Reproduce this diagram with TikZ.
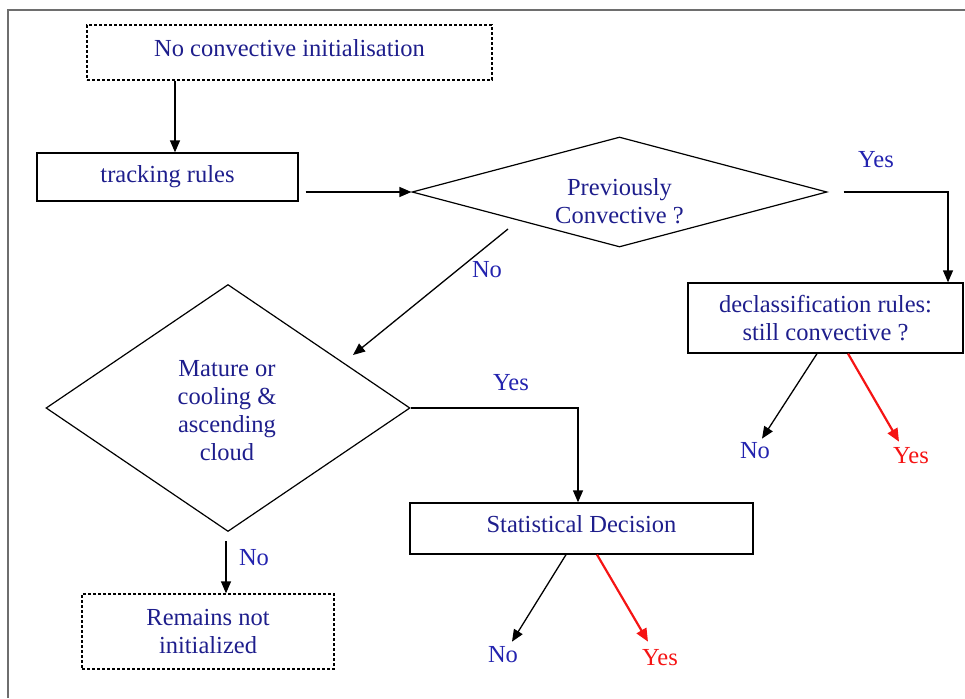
\documentclass[tikz,border=0pt]{standalone}
\usepackage{fontspec}
\setmainfont{Liberation Serif}
\usetikzlibrary{shapes.geometric,arrows.meta,calc}
\definecolor{txtblue}{RGB}{30,30,140}
\definecolor{lblblue}{RGB}{35,35,175}
\definecolor{arrred}{RGB}{245,20,20}
\definecolor{framegray}{RGB}{110,110,110}
\begin{document}
\begin{tikzpicture}[x=1pt,y=-1pt,
  every node/.style={font=\fontsize{24.5}{28}\selectfont, text=txtblue},
  box/.style={draw, line width=1.3pt, inner sep=0pt, align=center},
  dbox/.style={box, dash pattern=on 3pt off 2pt},
  dec/.style={draw, diamond, line width=1.2pt, inner sep=0pt},
  dectext/.style={align=center, inner sep=0pt},
  conn/.style={draw=black, line width=1.3pt, -{Triangle[length=12pt,width=10pt]}},
  redconn/.style={draw=arrred, line width=2.2pt, -{Triangle[length=13pt,width=11pt]}},
  lbl/.style={text=lblblue, inner sep=0pt},
]
\useasboundingbox (0,0) rectangle (965,698);
\draw[framegray, line width=2pt] (8,698) -- (8,10) -- (965,10);

% boxes and decisions
\node[dbox, minimum width=405, minimum height=55, text depth=8pt] (init) at (289.5,52.5) {No convective initialisation};
\node[box, minimum width=261, minimum height=48] (track) at (167.5,177) {tracking rules};
\node[dec, minimum width=415, minimum height=110, aspect=3.77] (prev) at (619.5,192) {};
\node[dectext] (prevtxt) at (619.5,201) {Previously\\Convective ?};
\node[box, minimum width=275, minimum height=70] (decl) at (825.5,318) {declassification rules:\\still convective ?};
\node[dec, minimum width=364, minimum height=247, aspect=1.47] (mat) at (228,408) {};
\node[dectext] (mattxt) at (227,411) {Mature or\\cooling \&\\ascending\\cloud};
\node[box, minimum width=343, minimum height=51, text depth=10pt] (stat) at (581.5,528.5) {Statistical Decision};
\node[dbox, minimum width=252, minimum height=75] (rem) at (208,631.5) {Remains not\\initialized};

% labels
\node[lbl] (yes1) at (876,160) {Yes};
\node[lbl] (no1) at (487,270) {No};
\node[lbl] (yes2) at (511,383) {Yes};
\node[lbl] (no2) at (254,558) {No};
\node[lbl] (declno) at (755,451) {No};
\node[lbl, text=arrred] (declyes) at (911,456) {Yes};
\node[lbl] (statno) at (503,655) {No};
\node[lbl, text=arrred] (statyes) at (660,658) {Yes};

% free ends of the diagonal connector
\coordinate (pstart) at (508,229);
\coordinate (pend) at (353,355);

% connectors
\draw[conn] ([xshift=-114.5pt]init.south) -- ([xshift=7.5pt]track.north);
\draw[conn] ([xshift=7pt]track.east |- prev.west) -- (prev.west);
\draw[conn] ([xshift=16pt]prev.east) -| ([xshift=122.5pt]decl.north);
\draw[conn] (pstart) -- (pend);
\draw[conn] (mat.east) -| ([xshift=-3.5pt]stat.north);
\draw[conn] ([xshift=-2pt,yshift=-9pt]mat.south) -- ([xshift=18pt]rem.north);
\draw[conn] ([xshift=-8.5pt]decl.south) -- ([xshift=7pt,yshift=4pt]declno.north);
\draw[redconn] ([xshift=22.5pt]decl.south) -- ([xshift=-12pt,yshift=6pt]declyes.north);
\draw[conn] ([xshift=-15.5pt]stat.south) -- ([xshift=9pt,yshift=5pt]statno.north);
\draw[redconn] ([xshift=15.5pt]stat.south) -- ([xshift=-12pt,yshift=8pt]statyes.north);
\end{tikzpicture}
\end{document}
